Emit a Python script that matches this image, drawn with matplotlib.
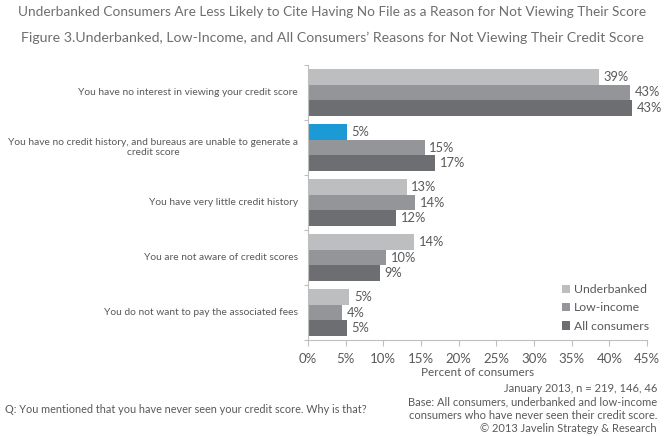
import numpy as np
import matplotlib.pyplot as plt

plt.rcParams['font.family'] = ['Lato', 'DejaVu Sans']

reasons = ['You have no interest in viewing your credit score',
           'You have no credit history, and bureaus are unable to generate a\ncredit score',
           'You have very little credit history',
           'You are not aware of credit scores',
           'You do not want to pay the associated fees']
underbanked = [39, 5, 13, 14, 5]
low_income = [43, 15, 14, 10, 4]
all_consumers = [43, 17, 12, 9, 5]
# bar lengths (labels show rounded values)
underbanked_len = [38.6, 5.2, 13.1, 14.1, 5.5]
low_income_len = [42.8, 15.5, 14.2, 10.4, 4.5]
all_len = [43.0, 16.9, 11.7, 9.5, 5.2]

c_ub = '#bdbec0'
c_li = '#939598'
c_all = '#6d6e71'
c_hl = '#1b9ad6'
txt = '#595959'

fig = plt.figure(figsize=(6.64, 4.36), dpi=100)
ax = fig.add_axes([308/664, 96/436, 339/664, 275/436])

y = np.arange(len(reasons))
h = 0.29
ub_cols = [c_ub] * 5
ub_cols[1] = c_hl
ax.barh(y - h, underbanked_len, h, color=ub_cols, label='Underbanked')
ax.barh(y, low_income_len, h, color=c_li, label='Low-income')
ax.barh(y + h, all_len, h, color=c_all, label='All consumers')

for off, lens, vals in [(-h, underbanked_len, underbanked), (0, low_income_len, low_income), (h, all_len, all_consumers)]:
    for i in range(len(reasons)):
        ax.text(lens[i] + 0.6, y[i] + off, '%d%%' % vals[i], va='center', ha='left',
                fontsize=9.3, color=txt)

ax.set_ylim(4.5, -0.5)
ax.set_xlim(0, 45)
ax.set_xticks(np.arange(0, 46, 5))
ax.set_xticklabels(['%d%%' % v for v in range(0, 46, 5)], fontsize=9.5, color=txt)
ax.set_yticks(np.arange(-0.5, 5, 1))
ax.set_yticklabels([])
ax.tick_params(axis='y', length=3, color='#bfbfbf')
ax.tick_params(axis='x', length=4, color='#bfbfbf', pad=5)
for s in ['top', 'right']:
    ax.spines[s].set_visible(False)
ax.spines['left'].set_color('#bfbfbf')
ax.spines['bottom'].set_color('#bfbfbf')
ax.set_xlabel('Percent of consumers', fontsize=8.5, color=txt, labelpad=2)

for i, r in enumerate(reasons):
    ax.text(-1.3, y[i], r, ha='right', va='center', fontsize=7.4, color=txt, multialignment='center')

leg = ax.legend(loc='lower right', bbox_to_anchor=(1.038, -0.01), frameon=False, fontsize=8.8,
                handlelength=0.7, handleheight=0.7, handletextpad=0.3, labelspacing=0.6)
for t in leg.get_texts():
    t.set_color(txt)

fig.text(0.5, 1 - 12/436, 'Underbanked Consumers Are Less Likely to Cite Having No File as a Reason for Not Viewing Their Score',
         ha='center', va='center', fontsize=9.8, color='#6d6e71')
fig.text(0.5, 1 - 38/436, 'Figure 3.Underbanked, Low-Income, and All Consumers\u2019 Reasons for Not Viewing Their Credit Score',
         ha='center', va='center', fontsize=10.2, color='#6d6e71')

fig.text(657/664, 1 - 383/436, 'January 2013, n = 219, 146, 46\nBase: All consumers, underbanked and low-income\n'
         'consumers who have never seen their credit score.\n\u00a9 2013 Javelin Strategy & Research',
         ha='right', va='top', fontsize=8, color=txt, linespacing=1.25)
fig.text(5/664, 1 - 409/436, 'Q: You mentioned that you have never seen your credit score. Why is that?',
         ha='left', va='center', fontsize=7.8, color=txt)

fig.savefig('out.png', dpi=100)
